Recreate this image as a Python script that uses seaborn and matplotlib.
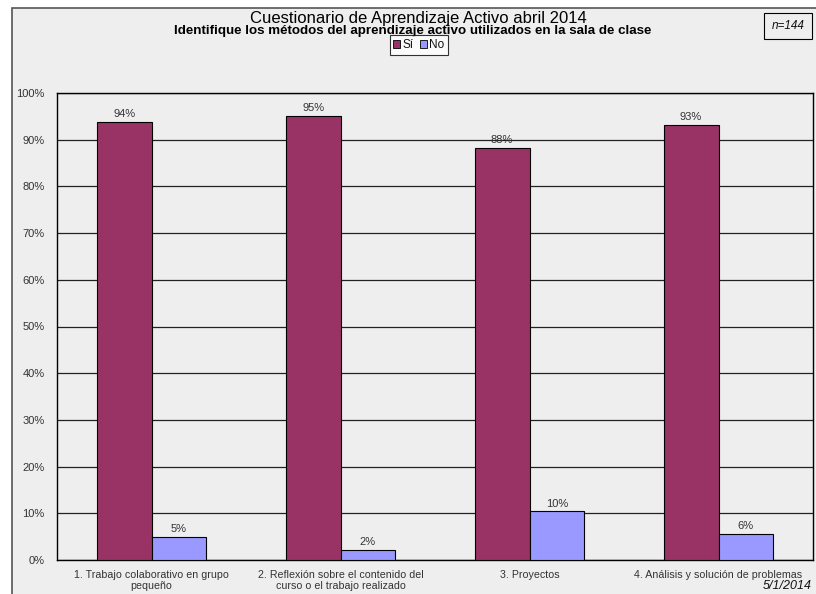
import pandas as pd
import numpy as np
import seaborn as sns
import matplotlib.pyplot as plt
from matplotlib.patches import Rectangle

# Data
categorias = [
    "1. Trabajo colaborativo en grupo\npequeño",
    "2. Reflexión sobre el contenido del\ncurso o el trabajo realizado",
    "3. Proyectos",
    "4. Análisis y solución de problemas",
]
si_vals = [93.8, 95.1, 88.2, 93.1]
no_vals = [4.9, 2.1, 10.4, 5.6]
series = ["Sí", "No"]
colores = ["#993366", "#9999FF"]
yticks = [0, 10, 20, 30, 40, 50, 60, 70, 80, 90, 100]

df = pd.DataFrame({
    "categoria": categorias * 2,
    "respuesta": ["Sí"] * 4 + ["No"] * 4,
    "valor": si_vals + no_vals,
})

sns.set_style("white")
plt.rcParams['font.family'] = ['Liberation Sans', 'DejaVu Sans']
plt.rcParams['text.color'] = '#111111'

fig = plt.figure(figsize=(8.16, 5.94), dpi=100, facecolor="white")
# outer chart frame
fig.patches.append(Rectangle((12 / 816, -0.05), 1.0, 1 - 8 / 594 + 0.05,
                             transform=fig.transFigure, facecolor="#EEEEEE",
                             edgecolor="#555555", linewidth=1.2, zorder=-10))

ax = fig.add_axes([57 / 816, 1 - 560 / 594, 756 / 816, 467 / 594])
ax.set_zorder(1)
ax.set_facecolor("#EEEEEE")

sns.barplot(data=df, x="categoria", y="valor", hue="respuesta",
            hue_order=series, palette=colores, width=0.58, gap=0,
            saturation=1, edgecolor="black", linewidth=0.8,
            legend=False, ax=ax, zorder=3)

for cont in ax.containers:
    ax.bar_label(cont, fmt="{:.0f}%", fontsize=8, padding=2, color="#333333")

ax.set_ylim(0, 100)
ax.set_xlim(-0.5, 3.5)
ax.set_yticks(yticks)
ax.set_yticklabels([f"{t}%" for t in yticks], fontsize=8, color="#333333")
ax.tick_params(axis="y", length=0, pad=9)
ax.tick_params(axis="x", length=0, pad=7, labelsize=7.7, labelcolor="#333333")
ax.yaxis.grid(True, color="#222222", linewidth=0.9, zorder=0)
ax.set_axisbelow(True)
ax.set_xlabel("")
ax.set_ylabel("")
for s in ax.spines.values():
    s.set_color("black")
    s.set_linewidth(1.0)
    s.set_visible(True)

# Titles
fig.text(418 / 816, 1 - 18 / 594, "Cuestionario de Aprendizaje Activo abril 2014",
         ha="center", va="center", fontsize=12, color="black")
fig.text(413 / 816, 1 - 31 / 594,
         "Identifique los métodos del aprendizaje activo utilizados en la sala de clase",
         ha="center", va="center", fontsize=9.6, fontweight="bold", color="black")

# Legend
handles = [Rectangle((0, 0), 1, 1, facecolor=c, edgecolor="black", linewidth=0.6)
           for c in colores]
leg = fig.legend(handles, series, loc="center", bbox_to_anchor=(419 / 816, 1 - 45 / 594),
                 ncol=2, fontsize=8.5, frameon=True, fancybox=False,
                 handlelength=0.6, handleheight=0.6, handletextpad=0.2,
                 columnspacing=0.5, borderpad=0.3, borderaxespad=0)
leg.get_frame().set_edgecolor("black")
leg.get_frame().set_facecolor("white")
leg.get_frame().set_linewidth(0.8)

# n box
fig.text(788 / 816, 1 - 26 / 594, "n=144", ha="center", va="center",
         fontsize=8.5, style="italic",
         bbox=dict(boxstyle="square,pad=0.6", facecolor="#EEEEEE",
                   edgecolor="black", linewidth=0.8))

# date
fig.text(812 / 816, 1 - 586 / 594, "5/1/2014", ha="right", va="center",
         fontsize=9, style="italic")

plt.savefig("out.png", dpi=100, facecolor=fig.get_facecolor())
